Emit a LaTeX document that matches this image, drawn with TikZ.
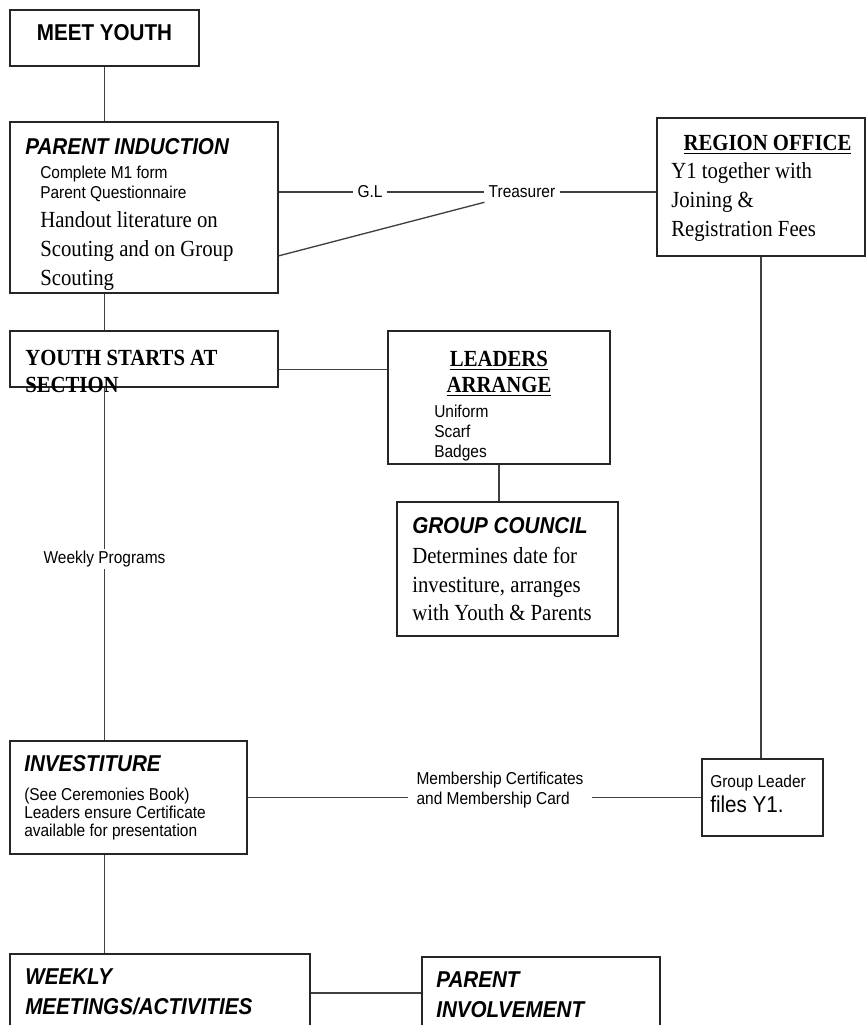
\documentclass[tikz,border=0pt]{standalone}
\usepackage{fontspec}
\usetikzlibrary{fit,calc}
\newfontfamily\arial[FakeStretch=0.9]{Liberation Sans}
\newfontfamily\tnr[FakeStretch=0.9]{Liberation Serif}
\newcommand\headsf{\arial\bfseries\itshape\fontsize{17.2}{22.5}\selectfont}
\newcommand\bodysf{\arial\fontsize{12.9}{15}\selectfont}
\newcommand\headrm{\tnr\bfseries\fontsize{17.3}{20.25}\selectfont}
% thick underline
\newcommand\thickul[1]{\setbox0=\hbox{#1}\hbox{\rlap{\vrule height -2pt depth 3.3pt width \wd0}\box0}}

\tikzset{
  box/.style={draw=black!85, line width=1.2pt, inner sep=0pt},
  txt/.style={inner sep=0pt, anchor=north west, align=left},
  link/.style={draw=black!75, line width=1pt},
  tag/.style={inner sep=3pt, font=\bodysf},
}

\begin{document}
\begin{tikzpicture}[x=0.75pt, y=-0.75pt]
\useasboundingbox (0,0) rectangle (867,1025);
\clip (0,0) rectangle (867,1025);

% boxes
\node[box, fit={(10,10) (199,66)}] (meet) {};
\node[box, fit={(10,122) (278,293)}] (parind) {};
\node[box, fit={(657,118) (865,256)}] (region) {};
\node[box, fit={(10,331) (278,387)}] (youth) {};
\node[box, fit={(388,331) (610,464)}] (leaders) {};
\node[box, fit={(397,502) (618,636)}] (council) {};
\node[box, fit={(10,741) (247,854)}] (invest) {};
\node[box, fit={(702,759) (823,836)}] (glead) {};
\node[box, fit={(10,954) (310,1040)}] (weekly) {};
\node[box, fit={(422,957) (660,1029)}] (parinv) {};

% texts
\node[inner sep=0pt, font=\arial\bfseries\fontsize{17.2}{20}\selectfont] (meet-t) at (104.5,33) {MEET YOUTH};
\node[txt, anchor=west, font=\headsf] (parind-t) at (25,147) {PARENT INDUCTION};
\node[txt, font=\bodysf] (parind-a) at (40,166) {Complete M1 form\\Parent Questionnaire};
\node[txt, font=\tnr\fontsize{17.3}{21.75}\selectfont] (parind-b) at (40,211) {Handout literature on\\Scouting and on Group\\Scouting};

\node[inner sep=0pt, anchor=base, font=\tnr\bfseries\fontsize{17.3}{20}\selectfont] (region-t) at (767.5,150) {\thickul{REGION OFFICE}};
\node[txt, font=\tnr\fontsize{17.3}{22}\selectfont] (region-a) at (671,162) {Y1 together with\\Joining \&\\Registration Fees};

\node[txt, font=\headrm] (youth-t) at (25,349.5) {YOUTH STARTS AT\\SECTION};

\node[txt, anchor=north, align=center, font=\tnr\bfseries\fontsize{17.3}{19.5}\selectfont] (leaders-t) at (499,350.5) {\thickul{LEADERS}\\\thickul{ARRANGE}};
\node[txt, font=\bodysf] (leaders-a) at (434,404.5) {Uniform\\Scarf\\Badges};

\node[txt, anchor=west, font=\headsf] (council-t) at (412,525.5) {GROUP COUNCIL};
\node[txt, font=\tnr\fontsize{17.3}{21.4}\selectfont] (council-a) at (412,547) {Determines date for\\investiture, arranges\\with Youth \& Parents};

\node[txt, anchor=west, font=\headsf] (invest-t) at (24,764) {INVESTITURE};
\node[txt, font=\arial\fontsize{12.9}{13.5}\selectfont] (invest-a) at (24,787.5) {(See Ceremonies Book)\\Leaders ensure Certificate\\available for presentation};

\node[txt, font=\bodysf] (glead-t) at (710,774.5) {Group Leader};
\node[txt, font=\arial\fontsize{17.2}{20}\selectfont] (glead-a) at (710,795.5) {files Y1.};

\node[txt, font=\headsf] (weekly-t) at (25,968.5) {WEEKLY\\MEETINGS/ACTIVITIES};
\node[txt, font=\headsf] (parinv-t) at (436,971.5) {PARENT\\INVOLVEMENT};

% labels on the links
\node[tag] (gl) at (370,192) {G.L};
\node[tag] (treas) at (522,192) {Treasurer};
\node[tag, inner sep=6pt, align=left] (memb) at (500,790) {Membership Certificates\\and Membership Card};

% links
\draw[link] (meet.south) -- (meet.south |- parind.north);
\draw[link] (meet.south |- parind.south) -- (meet.south |- youth.north);
\draw[link] (meet.south |- youth.south) -- node[tag, pos=0.486, fill=white, inner sep=1.5pt] (wprog) {Weekly Programs} (meet.south |- invest.north);
\draw[link] (meet.south |- invest.south) -- (meet.south |- weekly.north);

\draw[link] (parind.east |- gl) -- (gl) -- (treas) -- (region.west |- treas);
\draw[link] ($(parind.north east)!0.78!(parind.south east)$) -- (treas.south west);

\coordinate (ylink) at ($(youth.north east)!0.68!(youth.south east)$);
\draw[link] (ylink) -- (ylink -| leaders.west);
\draw[link] (leaders.south) -- (leaders.south |- council.north);
\draw[link] (region.south) -- (region.south |- glead.north);

\draw[link] (invest.east) -- (invest.east -| memb.west);
\draw[link] (memb.east |- glead.west) -- (glead.west);
\draw[link] (weekly.east |- parinv.west) -- (parinv.west);
\end{tikzpicture}
\end{document}
